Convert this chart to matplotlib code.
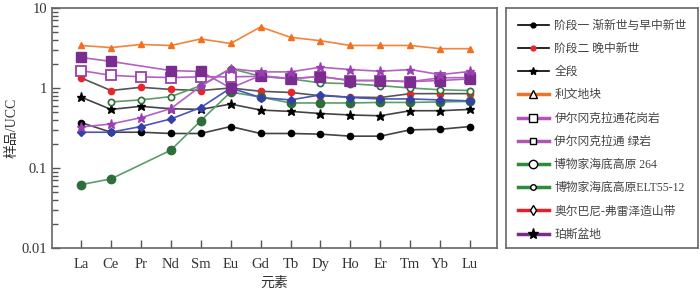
import numpy as np
import matplotlib
matplotlib.use('Agg')
from matplotlib import pyplot as plt
from matplotlib.lines import Line2D

plt.rcParams['font.family'] = ['Liberation Serif', 'Noto Sans CJK SC']

# 元素
elements = ['La', 'Ce', 'Pr', 'Nd', 'Sm', 'Eu', 'Gd', 'Tb', 'Dy', 'Ho', 'Er', 'Tm', 'Yb', 'Lu']

# 样品/UCC 数值 (nan = 无数据)
stage1 = [0.37, 0.28, 0.28, 0.27, 0.27, 0.33, 0.27, 0.27, 0.265, 0.25, 0.25, 0.30, 0.305, 0.33]
stage2 = [1.34, 0.93, 1.02, 0.96, 0.93, 1.0, 0.91, 0.88, 0.80, 0.77, 0.76, 0.85, 0.85, 0.85]
whole = [0.77, 0.54, 0.59, 0.55, 0.54, 0.63, 0.53, 0.51, 0.48, 0.46, 0.45, 0.52, 0.52, 0.54]
liwen = [3.4, 3.2, 3.5, 3.4, 4.1, 3.6, 5.8, 4.3, 3.9, 3.4, 3.4, 3.4, 3.1, 3.1]
granite = [1.65, 1.44, 1.38, 1.35, 1.38, 1.38, 1.40, 1.31, 1.39, 1.24, 1.24, 1.2, 1.34, 1.35]
greenstone = [2.41, 2.15, np.nan, 1.65, 1.61, 1.0, 1.43, 1.31, 1.39, 1.24, 1.24, 1.2, 1.24, 1.3]
plateau_264 = [np.nan, 0.67, 0.71, 0.78, 1.07, 1.75, 1.40, 1.30, 1.16, 1.13, 1.07, 1.0, 0.95, 0.93]
plateau_elt = [0.062, 0.073, np.nan, 0.167, 0.39, 0.89, 0.77, 0.65, 0.65, 0.65, 0.66, 0.66, 0.67, 0.68]
albania = [0.28, 0.28, 0.33, 0.41, 0.57, 1.0, 0.76, 0.71, 0.82, 0.76, 0.73, 0.73, 0.71, 0.69]
perth = [0.325, 0.355, 0.425, 0.553, 1.05, 1.75, 1.59, 1.59, 1.82, 1.70, 1.62, 1.70, 1.47, 1.61]

labels = ['阶段一 渐新世与早中新世', '阶段二 晚中新世', '全段', '利文地块',
          '伊尔冈克拉通花岗岩', '伊尔冈克拉通 绿岩', '博物家海底高原 264',
          '博物家海底高原ELT55-12', '奥尔巴尼-弗雷泽造山带', '珀斯盆地']

x = np.arange(len(elements))

fig = plt.figure(figsize=(7, 2.88), dpi=100)
ax = fig.add_axes([52 / 700, 40 / 288, 445 / 700, 240 / 288])


def draw(vals, **kw):
    v = np.array(vals, dtype=float)
    ok = ~np.isnan(v)
    ax.plot(x[ok], v[ok], lw=1.2, **kw)


draw(stage1, color='#444444', marker='o', ms=4.5, mfc='black', mec='black')
draw(whole, color='#444444', marker='*', ms=6.5, mfc='black', mec='black')
draw(stage2, color='#555555', marker='o', ms=4.5, mfc='#e8262a', mec='#e8262a')
draw(plateau_elt, color='#5a9e6a', marker='o', ms=6, mfc='#2d6e3a', mec='#2d6e3a')
draw(plateau_264, color='#5a9e6a', marker='o', ms=4.5, mfc='white', mec='#2d6e3a', mew=1.2)
draw(albania, color='#4a55c0', marker='D', ms=4.5, mfc='#3340a8', mec='#3340a8')
draw(granite, color='#b561c4', marker='s', ms=6.5, mfc='white', mec='#9a3fae', mew=1.3)
draw(greenstone, color='#b561c4', marker='s', ms=6.5, mfc='#7a2d8e', mec='#7a2d8e')
draw(perth, color='#b561c4', marker='*', ms=6.5, mfc='#9a3fb0', mec='#9a3fb0')
draw(liwen, color='#f3843a', marker='^', ms=5, mfc='#f07020', mec='#f07020')

ax.set_yscale('log')
ax.set_ylim(0.01, 10)
ax.set_xlim(-0.97, 13.9)
ax.set_xticks(x)
ax.set_xticklabels(elements)
ax.set_yticks([0.01, 0.1, 1, 10])
ax.set_yticklabels(['0.01', '0.1', '1', '10'])
ax.tick_params(which='both', direction='in', colors='#555555', labelcolor='#333333',
               labelsize=10.5)
ax.tick_params(which='major', length=6, width=1)
ax.tick_params(which='minor', length=4, width=1)
ax.tick_params(axis='x', pad=7)
for s in ax.spines.values():
    s.set_color('#666666')
    s.set_linewidth(1.2)
ax.set_xlabel('元素', fontsize=10, color='#333333', labelpad=4)
ax.set_ylabel('样品/UCC', fontsize=10, color='#333333', labelpad=2)

# 图例
lax = fig.add_axes([506 / 700, 40 / 288, 192 / 700, 240 / 288])
lax.set_xticks([])
lax.set_yticks([])
for s in lax.spines.values():
    s.set_color('#666666')
    s.set_linewidth(1.2)

handles = [
    Line2D([], [], color='black', lw=1.2, marker='o', ms=3.5, mfc='black', mec='black'),
    Line2D([], [], color='black', lw=1.2, marker='o', ms=3.5, mfc='#e8262a', mec='#e8262a'),
    Line2D([], [], color='black', lw=1.2, marker='*', ms=6, mfc='black', mec='black'),
    Line2D([], [], color='#ef7424', lw=2.5, marker='^', ms=6, mfc='white', mec='black'),
    Line2D([], [], color='#b155b5', lw=2.5, marker='s', ms=6, mfc='white', mec='black'),
    Line2D([], [], color='#b155b5', lw=2.5, marker='s', ms=4, mfc='white', mec='black'),
    Line2D([], [], color='#2e8b3a', lw=2.5, marker='o', ms=6, mfc='white', mec='black'),
    Line2D([], [], color='#2e8b3a', lw=2.5, marker='o', ms=4, mfc='white', mec='black'),
    Line2D([], [], color='#e5202a', lw=2.5, marker='d', ms=5, mfc='white', mec='black'),
    Line2D([], [], color='#7a2c8c', lw=2.5, marker='*', ms=8, mfc='black', mec='black'),
]
leg = lax.legend(handles, labels, loc='upper left', bbox_to_anchor=(0, 1.0),
                 frameon=False, fontsize=8.5, handlelength=2.6, handletextpad=0.5,
                 labelspacing=0.95, borderaxespad=0.6)
for t in leg.get_texts():
    t.set_color('#444444')

fig.savefig('out.png', dpi=100)
